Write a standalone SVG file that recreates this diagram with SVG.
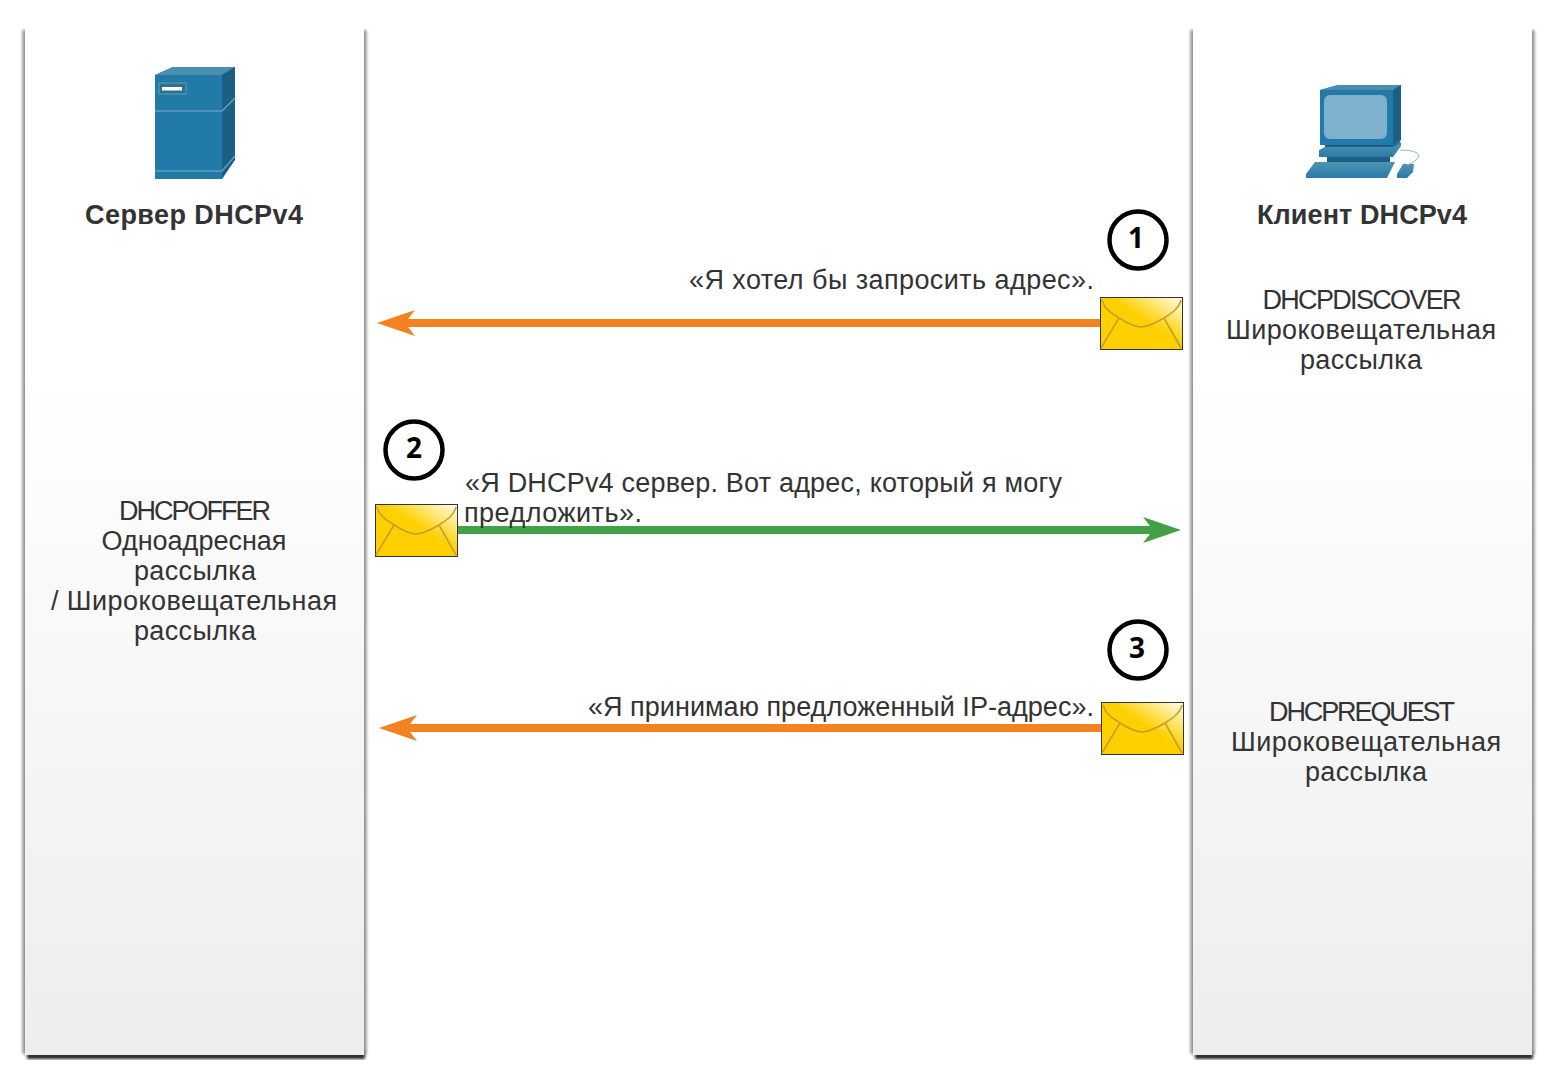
<svg xmlns="http://www.w3.org/2000/svg" xmlns:xlink="http://www.w3.org/1999/xlink" width="1558" height="1080" viewBox="0 0 1558 1080">
<style>
text{font-family:"Liberation Sans",Arial,sans-serif;fill:#333;font-size:27px}
.c{text-anchor:middle}
.b{font-weight:bold}
.n{font-weight:bold;fill:#000;font-size:28px;font-family:"Open Sans","Liberation Sans",sans-serif;text-anchor:middle}
.ring{fill:#fff;stroke:#000;stroke-width:4.5}
.o{stroke:#f58220;stroke-width:8;fill:none}
.g{stroke:#43a047;stroke-width:8;fill:none}
.flap{fill:none;stroke:#c6a02c;stroke-width:1.6}
.panel{fill:url(#pg)}
</style>
<defs>
<linearGradient id="pg" x1="0" y1="0" x2="0" y2="1"><stop offset="0.33" stop-color="#fff"/><stop offset="0.6" stop-color="#f8f8f8"/><stop offset="1" stop-color="#eeeded"/></linearGradient>
<linearGradient id="eg" x1="1" y1="0" x2="0" y2="1"><stop offset="0" stop-color="#fffef2"/><stop offset="0.45" stop-color="#ffd000"/><stop offset="1" stop-color="#ffcf00"/></linearGradient>
<linearGradient id="bt" x1="0" y1="0" x2="0" y2="1"><stop offset="0" stop-color="#4f93b5"/><stop offset="1" stop-color="#2a7ba6"/></linearGradient>
<filter id="sh" x="-5%" y="-2%" width="110%" height="104%"><feGaussianBlur stdDeviation="1.5"/></filter>
<marker id="ao" markerUnits="userSpaceOnUse" markerWidth="40" markerHeight="28" refX="12" refY="14" orient="auto"><path d="M38 14L0 1L10 14L0 27Z" fill="#f58220"/></marker>
<marker id="ag" markerUnits="userSpaceOnUse" markerWidth="40" markerHeight="28" refX="12" refY="14" orient="auto"><path d="M38 14L0 1L10 14L0 27Z" fill="#43a047"/></marker>
<g id="env">
<rect x="0.5" y="0.5" width="82" height="52" fill="url(#eg)" stroke="#333" stroke-width="1"/>
<path class="flap" d="M2 3C5 14 14 17 19 21C32 29 38 30 41 30C44 30 52 28 64 21C70 17 79 12 81 3M19 21L1 51M64 21L81 51"/>
</g>
</defs>
<g id="server-panel">
<rect x="27" y="1051" width="338" height="8" fill="#222" filter="url(#sh)"/>
<rect x="22.5" y="30" width="344" height="1024" fill="#8c8c8c" filter="url(#sh)"/>
<rect class="panel" x="25" y="26" width="339" height="1029"/>
<g id="server-icon">
<path d="M155 75L173 67H235V155L222 179H155Z" fill="#217aa8"/>
<path d="M155 75L173 67H235L222 75Z" fill="#4a8fb2"/>
<path d="M222 75L235 67V155L222 171Z" fill="#1c5f84"/>
<path d="M222 179V171L235 155V160L222 179Z" fill="#1c5f84"/>
<path d="M155 111H222L235 98" fill="none" stroke="#5f9dbd" stroke-width="1.5"/>
<path d="M155 171H222L235 156" fill="none" stroke="#5f9dbd" stroke-width="1.5"/>
<rect x="159" y="83" width="27" height="11" fill="#2f6f92" stroke="#5f9dbd" stroke-width="1"/>
<rect x="162" y="87" width="20" height="3.5" fill="#fff"/>
</g>
<text class="c b" x="194" y="224" textLength="218">Сервер DHCPv4</text>
<text class="c" x="195" y="520" textLength="152">DHCPOFFER</text>
<text class="c" x="194" y="550">Одноадресная</text>
<text class="c" x="195" y="580" textLength="122">рассылка</text>
<text class="c" x="194" y="610" textLength="286">/ Широковещательная</text>
<text class="c" x="195" y="640" textLength="122">рассылка</text>
</g>
<g id="client-panel">
<rect x="1195" y="1051" width="338" height="8" fill="#222" filter="url(#sh)"/>
<rect x="1190.5" y="30" width="344" height="1024" fill="#8c8c8c" filter="url(#sh)"/>
<rect class="panel" x="1193" y="26" width="339" height="1029"/>
<g id="client-icon">
<path d="M1320 90L1338 85H1401V140L1393 145H1320Z" fill="#217aa8"/>
<path d="M1320 90L1338 85H1401L1393 90Z" fill="#4a8fb2"/>
<path d="M1393 90L1401 85V140L1393 145Z" fill="#1c5f84"/>
<rect x="1324" y="95" width="63" height="44" rx="6" fill="#7fb0cd"/>
<path d="M1325 145H1393L1400 141V144L1392 150H1325Z" fill="#1c5f84"/>
<path d="M1319 150L1325 147H1393L1401 142V146L1393 157H1319Z" fill="url(#bt)"/>
<rect x="1327" y="157" width="63" height="5" fill="#1c5f84"/>
<path d="M1315 162H1395L1387 178H1306V174Z" fill="url(#bt)"/>
<path d="M1403 164H1414L1413 172L1407 178H1397V174Z" fill="url(#bt)"/>
<path d="M1400 150Q1416 150 1419 155Q1419 160 1407 165" fill="none" stroke="#8dbbd3" stroke-width="1"/>
</g>
<text class="c b" x="1362" y="224" textLength="210">Клиент DHCPv4</text>
<text class="c" x="1362" y="309" textLength="199">DHCPDISCOVER</text>
<text class="c" x="1361" y="339" textLength="270">Широковещательная</text>
<text class="c" x="1361" y="369" textLength="122">рассылка</text>
<text class="c" x="1362" y="721" textLength="186">DHCPREQUEST</text>
<text class="c" x="1366" y="751" textLength="270">Широковещательная</text>
<text class="c" x="1366" y="781" textLength="122">рассылка</text>
</g>
<g id="connectors">
<path class="o" d="M1101 323H403" marker-end="url(#ao)"/>
<path class="g" d="M457 530H1155" marker-end="url(#ag)"/>
<path class="o" d="M1102 728H405" marker-end="url(#ao)"/>
</g>
<g id="message-1">
<use xlink:href="#env" href="#env" x="1100" y="297"/>
<circle class="ring" cx="1138" cy="240" r="28.5"/>
<text class="n" x="1136" y="248">1</text>
<text x="689" y="289" textLength="405">«Я хотел бы запросить адрес».</text>
</g>
<g id="message-2">
<use xlink:href="#env" href="#env" x="375" y="504"/>
<circle class="ring" cx="414" cy="450" r="28.5"/>
<text class="n" x="414" y="458">2</text>
<text x="465" y="492" textLength="597">«Я DHCPv4 сервер. Вот адрес, который я могу</text>
<text x="464" y="522" textLength="178">предложить».</text>
</g>
<g id="message-3">
<use xlink:href="#env" href="#env" x="1101" y="702"/>
<circle class="ring" cx="1138" cy="650" r="28.5"/>
<text class="n" x="1137" y="658">3</text>
<text x="588" y="716" textLength="506">«Я принимаю предложенный IP-адрес».</text>
</g>
</svg>
